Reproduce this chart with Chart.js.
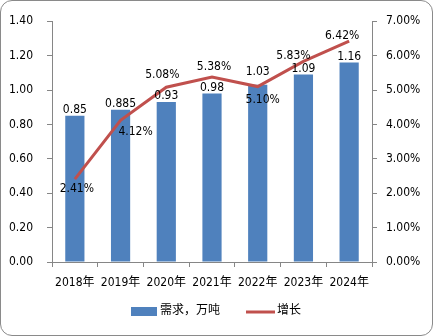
<!DOCTYPE html>
<html>
<head>
<meta charset="utf-8">
<script src="https://cdn.jsdelivr.net/npm/chart.js@4.4.1/dist/chart.umd.min.js"></script>
<style>
	body { margin: 0; background: #fff; }
	#marco { position: absolute; left: 0; top: 0; width: 431px; height: 334px; border: 1px solid #8a8a8a; border-radius: 12px; }
	#GraficoDemanda { position: absolute; left: 0; top: 0; }
</style>
</head>
<body>
<div id="marco"></div>
<canvas id="GraficoDemanda" width="433" height="336"></canvas>
<script>
// datos del gráfico
var anios = ['2018年', '2019年', '2020年', '2021年', '2022年', '2023年', '2024年'];
var demanda = [0.85, 0.885, 0.93, 0.98, 1.03, 1.09, 1.16];	// 万吨
var crecimiento = [2.41, 4.12, 5.08, 5.38, 5.10, 5.83, 6.42];	// %
var etiquetasDemanda = ['0.85', '0.885', '0.93', '0.98', '1.03', '1.09', '1.16'];
var etiquetasCrecimiento = ['2.41%', '4.12%', '5.08%', '5.38%', '5.10%', '5.83%', '6.42%'];
// posicion de las etiquetas de la linea (dx, dy desde el punto)
var posEtiquetaLinea = [[2, 10], [15, 12], [-4, -12], [2, -10], [5, 13], [-10, -6], [-7, -5]];
var posEtiquetaBarra = [0, 0, 0, 0, -7, 0, 0];

var fuente = "'DejaVu Sans Condensed', 'DejaVu Sans', 'Noto Sans CJK SC', sans-serif";
var colorBarra = '#4F81BD';
var colorLinea = '#C0504D';
var colorEje = '#868686';

// etiquetas de valores sobre barras y linea
var pluginEtiquetas = {
	id: 'etiquetas',
	afterDatasetsDraw: function(chart){
		var ctx = chart.ctx;
		ctx.save();
		ctx.font = '12px ' + fuente;
		ctx.fillStyle = '#000';
		ctx.textAlign = 'center';
		var barras = chart.getDatasetMeta(0);
		barras.data.forEach(function(el, i){
			ctx.textBaseline = 'bottom';
			ctx.fillText(etiquetasDemanda[i], el.x, el.y + posEtiquetaBarra[i]);
		});
		var linea = chart.getDatasetMeta(1);
		linea.data.forEach(function(el, i){
			ctx.textBaseline = 'middle';
			ctx.fillText(etiquetasCrecimiento[i], el.x + posEtiquetaLinea[i][0], el.y + posEtiquetaLinea[i][1]);
		});
		ctx.restore();
	},
	// leyenda abajo
	afterDraw: function(chart){
		var ctx = chart.ctx;
		var ds = chart.data.datasets;
		var y = 311;
		ctx.save();
		ctx.font = '12px ' + fuente;
		ctx.fillStyle = '#000';
		ctx.textBaseline = 'middle';
		ctx.textAlign = 'left';
		var x = 131;
		ctx.fillStyle = colorBarra;
		ctx.fillRect(x, y - 4, 26, 9);
		ctx.fillStyle = '#000';
		ctx.fillText(ds[0].label, x + 29, y);
		x = 246;
		ctx.strokeStyle = colorLinea;
		ctx.lineWidth = 3;
		ctx.beginPath();
		ctx.moveTo(x, y + 1);
		ctx.lineTo(x + 29, y + 1);
		ctx.stroke();
		ctx.fillText(ds[1].label, x + 31, y);
		ctx.restore();
	}
};

var myChartDemanda = new Chart('GraficoDemanda', {
	type: 'bar',
	data: {
		labels: anios,
		datasets: [{
			type: 'bar',
			label: '需求，万吨',
			data: demanda,
			backgroundColor: colorBarra,
			yAxisID: 'y',
			barPercentage: 0.42,
			categoryPercentage: 1,
			order: 2
		}, {
			type: 'line',
			label: '增长',
			data: crecimiento,
			borderColor: colorLinea,
			borderWidth: 3,
			pointRadius: 0,
			tension: 0,
			yAxisID: 'y1',
			order: 1
		}]
	},
	options: {
		responsive: false,
		animation: false,
		layout: { padding: { top: 7.8, bottom: 44 } },
		plugins: {
			legend: { display: false },
			tooltip: { enabled: false }
		},
		scales: {
			x: {
				offset: true,
				grid: { display: true, drawOnChartArea: false, offset: true, color: colorEje, tickLength: 5 },
				border: { color: colorEje },
				ticks: { color: '#000', font: { family: fuente, size: 12 }, padding: 9, maxRotation: 0, autoSkip: false },
				afterFit: function(scale){ scale.height = 30; }
			},
			y: {
				position: 'left',
				min: 0,
				max: 1.4,
				grid: { drawOnChartArea: false, color: colorEje, tickLength: 5 },
				border: { color: colorEje },
				ticks: {
					stepSize: 0.2,
					color: '#000',
					padding: 14,
					font: { family: fuente, size: 12 },
					callback: function(v){ return v.toFixed(2); }
				},
				afterFit: function(scale){ scale.width = 52; }
			},
			y1: {
				position: 'right',
				min: 0,
				max: 7,
				grid: { drawOnChartArea: false, color: colorEje, tickLength: 5 },
				border: { color: colorEje },
				ticks: {
					stepSize: 1,
					color: '#000',
					padding: 9,
					font: { family: fuente, size: 12 },
					callback: function(v){ return v.toFixed(2) + '%'; }
				},
				afterFit: function(scale){ scale.width = 61; }
			}
		}
	},
	plugins: [pluginEtiquetas]
});
</script>
</body>
</html>
